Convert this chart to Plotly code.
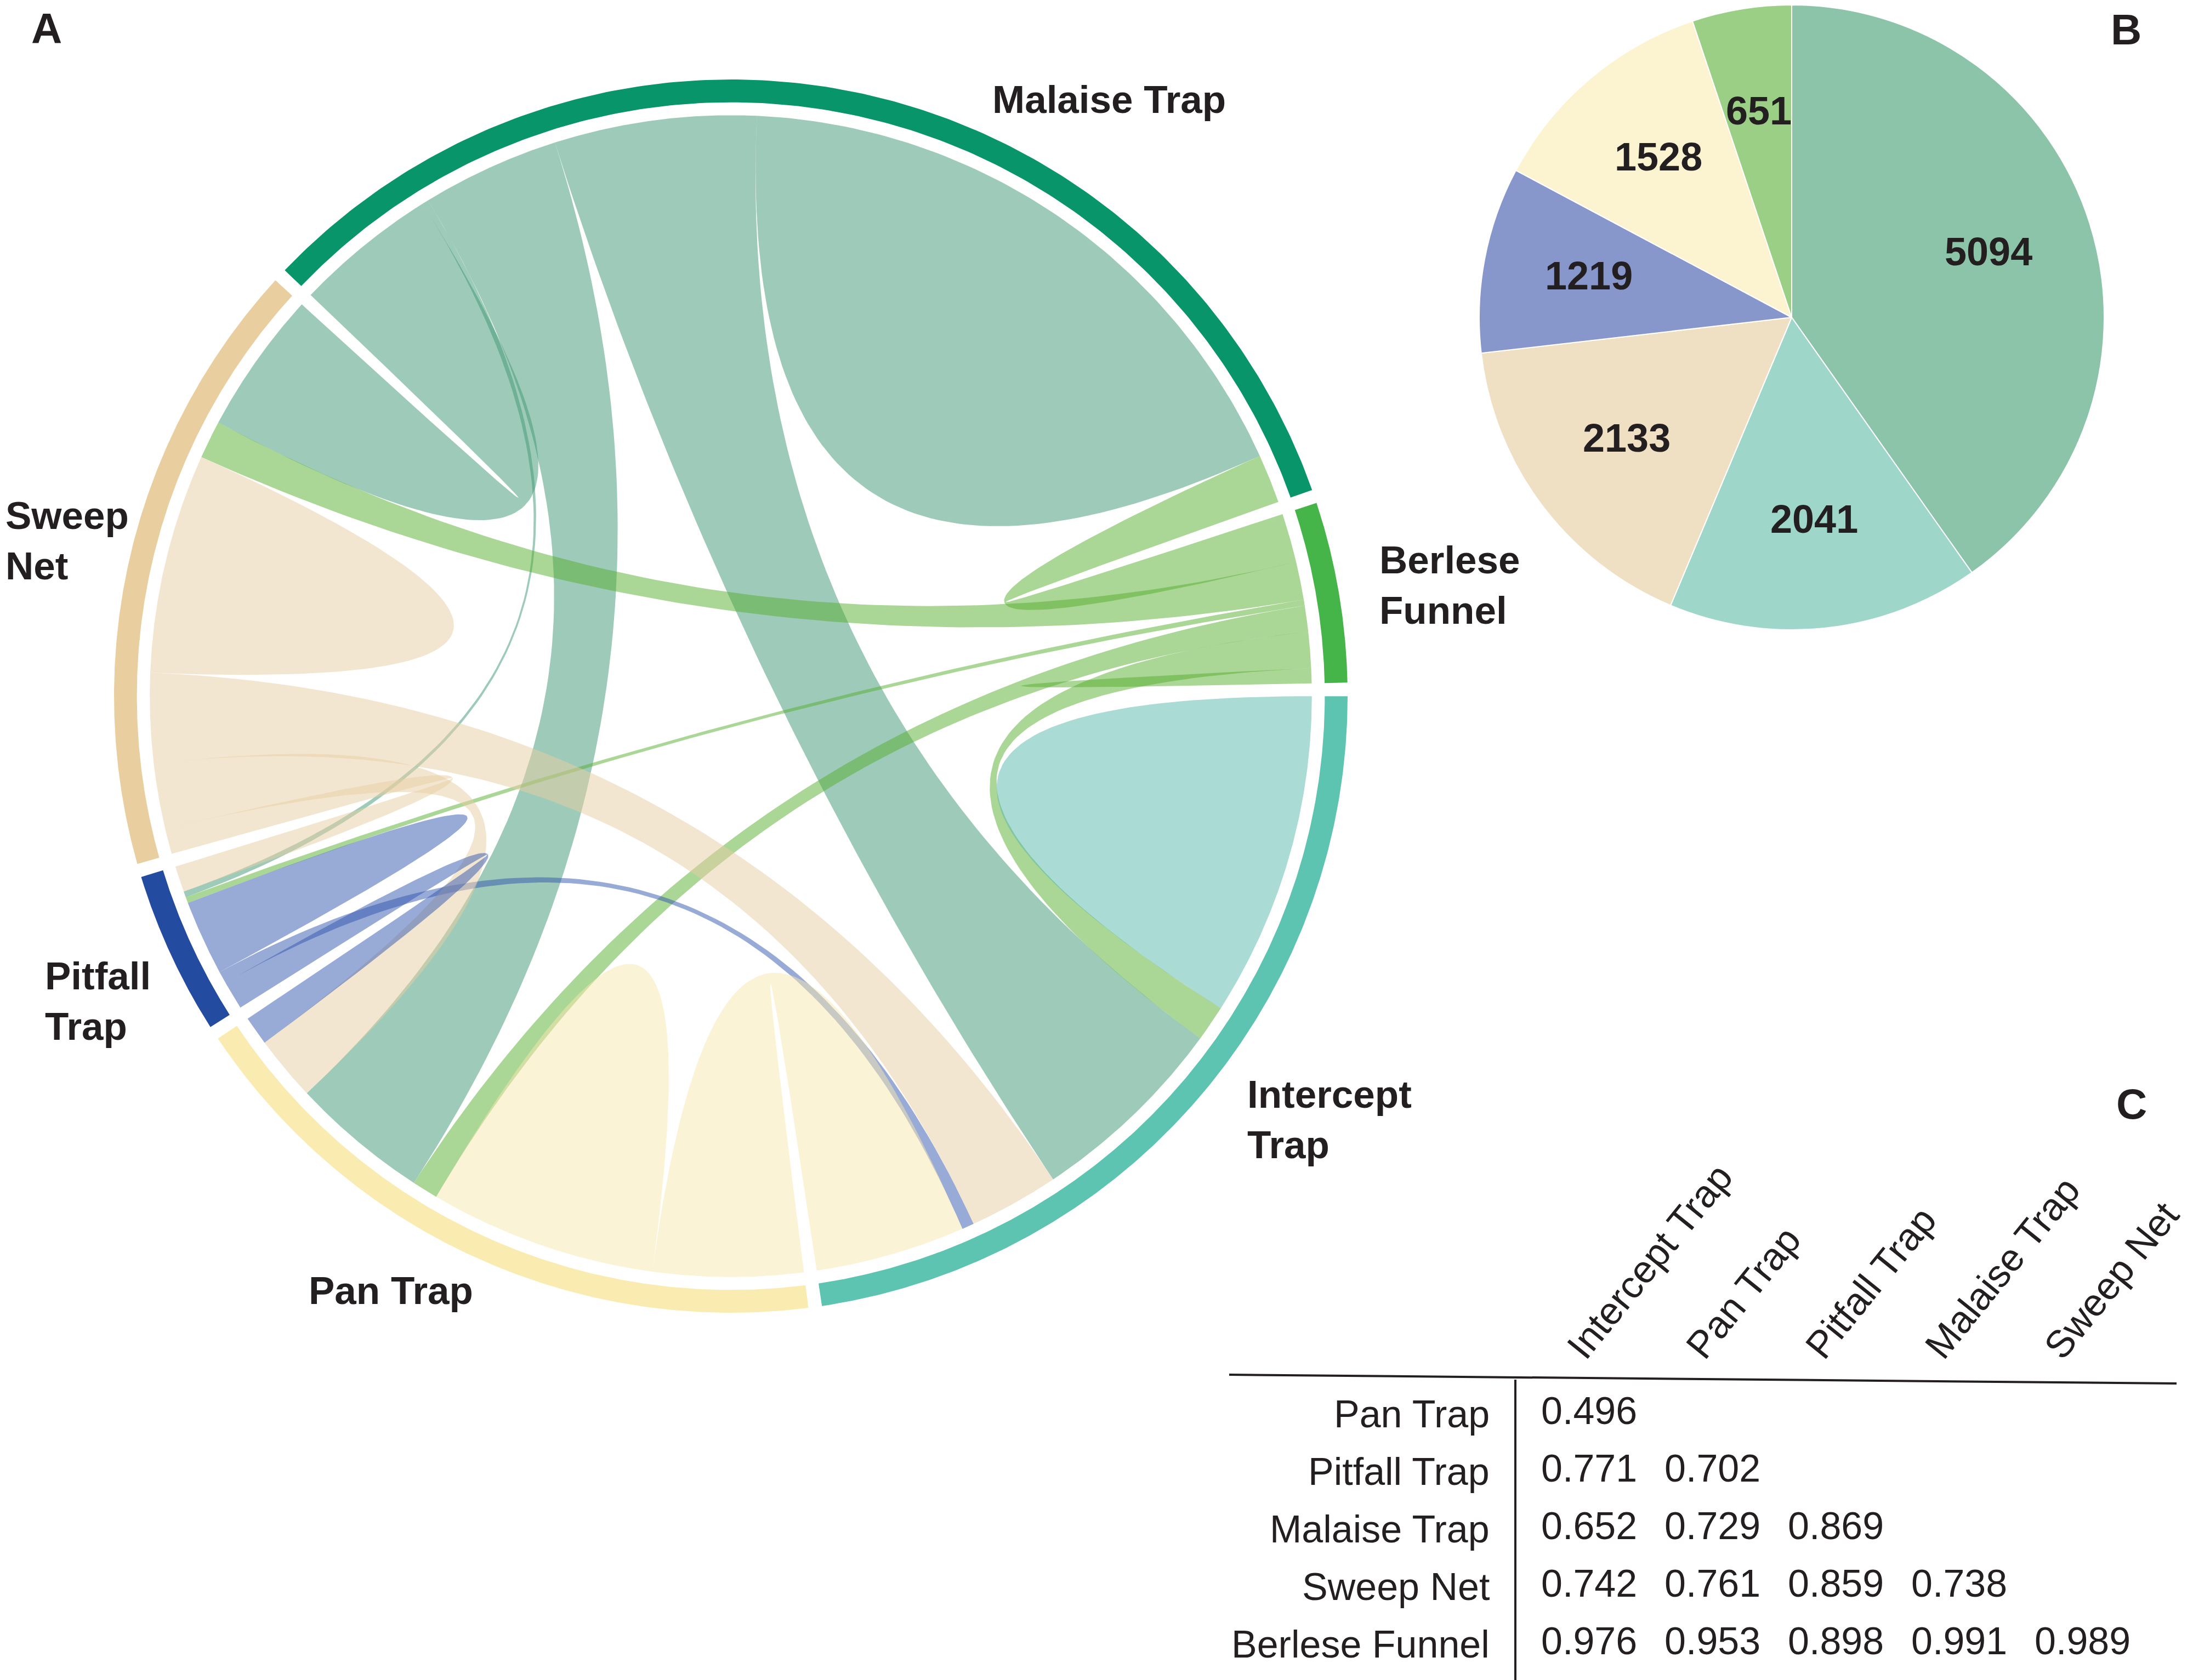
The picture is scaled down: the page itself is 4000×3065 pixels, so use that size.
import numpy as np
import plotly.graph_objects as go

W, H = 4000, 3065
FONT = "Liberation Sans, Arial, sans-serif"
INK = "#231f20"

# ---------------- panel A: chord diagram ----------------
sectors = ["M", "B", "I", "P", "F", "S"]
sector_names = ["Malaise Trap", "Berlese Funnel", "Intercept Trap", "Pan Trap", "Pitfall Trap", "Sweep Net"]
ring_colors = ["#08956a", "#46b549", "#5cc4b0", "#faecb0", "#234ba0", "#e9cf9f"]
link_colors = ["rgba(61,151,115,0.5)", "rgba(85,173,45,0.5)", "rgba(85,183,169,0.5)",
               "rgba(247,231,173,0.5)", "rgba(49,85,173,0.5)", "rgba(231,205,161,0.5)"]

link_a = ["M", "M", "M", "M", "M", "M", "B", "B", "B", "B", "B", "I", "I", "I", "I", "P", "P", "P", "F", "F", "S"]
link_b = ["M", "B", "I", "P", "F", "S", "B", "S", "F", "P", "I", "I", "S", "F", "P", "P", "S", "F", "F", "S", "S"]
link_val = [630, 49, 202, 138, 6, 143, 15, 38, 6, 26, 36, 325, 90, 12, 150, 227, 65, 29, 75, 26, 220]

# order of link ends inside each sector, clockwise
end_order = {
    "M": ["S", "F", "P", "I", "M", "B"],
    "B": ["M", "S", "F", "P", "I", "B"],
    "I": ["I", "B", "M", "S", "F", "P"],
    "P": ["I", "P", "B", "M", "S", "F"],
    "F": ["P", "I", "F", "B", "M", "S"],
    "S": ["F", "P", "I", "S", "B", "M"],
}
# which sector gives its colour to a link
color_rank = ["B", "M", "S", "F", "P", "I"]

gap = 1.27
start_angle = 136.96 - gap / 2
r_chord, r_in, r_out = 0.942, 0.963, 1.0

val = {}
for a, b, v in zip(link_a, link_b, link_val):
    val[(a, b)] = v
    val[(b, a)] = v
totals = {s: sum(v for (a, b), v in val.items() if a == s) for s in sectors}
deg_per = (360 - gap * len(sectors)) / sum(totals.values())

ends = {}
sector_span = {}
theta = start_angle
for s in sectors:
    t0 = theta
    for p in end_order[s]:
        w = val[(s, p)] * deg_per
        ends[(s, p)] = (theta, theta - w)
        theta -= w
    sector_span[s] = (t0, theta)
    theta -= gap


def arc(t1, t2, r, n=80):
    t = np.radians(np.linspace(t1, t2, n))
    return list(r * np.cos(t)), list(r * np.sin(t))


def bez(t1, t2, r, n=80):
    p0 = r * np.array([np.cos(np.radians(t1)), np.sin(np.radians(t1))])
    p2 = r * np.array([np.cos(np.radians(t2)), np.sin(np.radians(t2))])
    u = np.linspace(0, 1, n)
    pts = np.outer((1 - u) ** 2, p0) + np.outer(u ** 2, p2)
    return list(pts[:, 0]), list(pts[:, 1])


fig = go.Figure()

for a, b, v in zip(link_a, link_b, link_val):
    owner = min(a, b, key=color_rank.index)
    col = link_colors[sectors.index(owner)]
    x1, x2 = ends[(a, b)]
    xs, ys = [], []
    if a == b:
        for seg in (arc(x1, x2, r_chord), bez(x2, x1, r_chord)):
            xs += seg[0]
            ys += seg[1]
    else:
        y1, y2 = ends[(b, a)]
        for seg in (arc(x1, x2, r_chord), bez(x2, y1, r_chord),
                    arc(y1, y2, r_chord), bez(y2, x1, r_chord)):
            xs += seg[0]
            ys += seg[1]
    fig.add_trace(go.Scatter(x=xs, y=ys, mode="lines", fill="toself", fillcolor=col,
                             line=dict(width=0), hoverinfo="skip", showlegend=False,
                             xaxis="x", yaxis="y"))

for s, c in zip(sectors, ring_colors):
    t0, t1 = sector_span[s]
    ox, oy = arc(t0, t1, r_out, 200)
    ix, iy = arc(t1, t0, r_in, 200)
    fig.add_trace(go.Scatter(x=ox + ix, y=oy + iy, mode="lines", fill="toself", fillcolor=c,
                             line=dict(width=0), hoverinfo="skip", showlegend=False,
                             xaxis="x", yaxis="y"))

# ---------------- panel B: pie ----------------
pie_labels = ["Malaise Trap", "Intercept Trap", "Sweep Net", "Pitfall Trap", "Pan Trap", "Berlese Funnel"]
pie_values = [5094, 2041, 2133, 1219, 1528, 651]
pie_colors = ["#8bc4a9", "#9ed6ca", "#efdfc3", "#8797cb", "#fcf3d0", "#9bcf86"]

pie_cx, pie_cy, pie_r = 3260, 571, 570
fig.add_trace(go.Pie(labels=pie_labels, values=pie_values, textinfo="none", sort=False,
                     direction="clockwise", rotation=0,
                     marker=dict(colors=pie_colors, line=dict(color="white", width=2)),
                     showlegend=False, hoverinfo="skip",
                     domain=dict(x=[(pie_cx - pie_r) / W, (pie_cx + pie_r) / W],
                                 y=[max(0, 1 - (pie_cy + pie_r) / H), min(1, 1 - (pie_cy - pie_r) / H)])))

annotations = []
frac = np.array(pie_values) / sum(pie_values)
mid = np.radians(360 * (np.cumsum(frac) - frac / 2))
for v, m in zip(pie_values, mid):
    px = pie_cx + 0.66 * pie_r * np.sin(m)
    py = pie_cy - 0.66 * pie_r * np.cos(m) - 6
    annotations.append(dict(x=px / W, y=1 - py / H, xref="paper", yref="paper", text=f"<b>{v}</b>",
                            showarrow=False, xanchor="center", yanchor="middle",
                            font=dict(family=FONT, size=72, color=INK)))

# ---------------- panel C: similarity table ----------------
tbl_rows = ["Pan Trap", "Pitfall Trap", "Malaise Trap", "Sweep Net", "Berlese Funnel"]
tbl_cols = ["Intercept Trap", "Pan Trap", "Pitfall Trap", "Malaise Trap", "Sweep Net"]
tbl_vals = [
    [0.496],
    [0.771, 0.702],
    [0.652, 0.729, 0.869],
    [0.742, 0.761, 0.859, 0.738],
    [0.976, 0.953, 0.898, 0.991, 0.989],
]

tx, ty, tt = [], [], []
for i, row in enumerate(tbl_vals):
    for j, v in enumerate(row):
        tx.append(j)
        ty.append(i)
        tt.append(f"{v:.3f}")
fig.add_trace(go.Scatter(x=tx, y=ty, text=tt, mode="text", textposition="middle right",
                         textfont=dict(family=FONT, size=70, color=INK),
                         hoverinfo="skip", showlegend=False, xaxis="x3", yaxis="y3"))

for i, name in enumerate(tbl_rows):
    annotations.append(dict(x=-0.41, y=i, xref="x3", yref="y3", text=name, showarrow=False,
                            xanchor="right", yanchor="middle",
                            font=dict(family=FONT, size=70, color=INK)))
for j, name in enumerate(tbl_cols):
    annotations.append(dict(x=j + 0.13 - 0.033 * j, y=-0.8, xref="x3", yref="y3", text=name,
                            showarrow=False, xanchor="left", yanchor="bottom", textangle=-51,
                            font=dict(family=FONT, size=70, color=INK)))

# chord labels and panel letters (pixel positions on the page)
labels_px = [
    ("Malaise Trap", 1800, 173),
    ("Berlese<br>Funnel", 2506, 1059),
    ("Intercept<br>Trap", 2265, 2034),
    ("Pan Trap", 553, 2346),
    ("Pitfall<br>Trap", 72, 1818),
    ("Sweep<br>Net", 0, 978),
]
for txt, px, py in labels_px:
    annotations.append(dict(x=px / W, y=1 - py / H, xref="paper", yref="paper", text=f"<b>{txt}</b>",
                            showarrow=False, xanchor="left", yanchor="middle", align="left",
                            font=dict(family=FONT, size=71, color=INK)))
for txt, px, py in [("A", 77, 44), ("B", 3870, 46), ("C", 3880, 2006)]:
    annotations.append(dict(x=px / W, y=1 - py / H, xref="paper", yref="paper", text=f"<b>{txt}</b>",
                            showarrow=False, xanchor="center", yanchor="middle",
                            font=dict(family=FONT, size=78, color=INK)))

shapes = [
    dict(type="line", xref="paper", yref="paper", x0=2234 / W, y0=1 - 2500 / H, x1=3962 / W, y1=1 - 2516 / H,
         line=dict(color=INK, width=4)),
    dict(type="line", xref="paper", yref="paper", x0=2756 / W, y0=1 - 2509 / H, x1=2756 / W, y1=0,
         line=dict(color=INK, width=4)),
]

R = 1125
cx, cy = 1325, 1262
ext = 1.05
hidden = dict(visible=False, showgrid=False, zeroline=False)
fig.update_layout(
    width=W, height=H, margin=dict(l=0, r=0, t=0, b=0), autosize=False,
    paper_bgcolor="white", plot_bgcolor="white",
    xaxis=dict(domain=[(cx - ext * R) / W, (cx + ext * R) / W], range=[-ext, ext], **hidden),
    yaxis=dict(domain=[1 - (cy + ext * R) / H, 1 - (cy - ext * R) / H], range=[-ext, ext], **hidden),
    xaxis3=dict(domain=[2690.5 / W, 3928 / W], range=[-0.5, 5.0], **hidden),
    yaxis3=dict(domain=[1 - 3055 / H, 1 - 2341 / H], range=[4.6, -2.2], **hidden),
    annotations=annotations,
    shapes=shapes,
)

fig.write_html("out.html")
